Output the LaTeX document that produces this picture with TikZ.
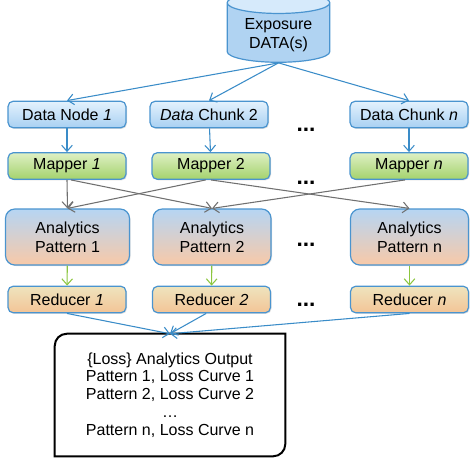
\documentclass[tikz,border=0pt]{standalone}
\usepackage{fontspec}
\setmainfont{Liberation Sans}
\usetikzlibrary{shapes,arrows.meta,shadows}

\definecolor{edgeblue}{RGB}{74,148,207}
\definecolor{linkblue}{RGB}{58,140,200}
\definecolor{chunktop}{RGB}{228,242,253}
\definecolor{chunkbot}{RGB}{168,208,242}
\definecolor{maptop}{RGB}{222,240,196}
\definecolor{mapbot}{RGB}{164,210,108}
\definecolor{anatop}{RGB}{182,213,243}
\definecolor{anabot}{RGB}{248,201,168}
\definecolor{redtop}{RGB}{238,228,190}
\definecolor{redbot}{RGB}{243,196,150}
\definecolor{cylbody}{RGB}{176,211,242}
\definecolor{cyltop}{RGB}{214,234,251}
\definecolor{linkgray}{RGB}{112,112,112}
\definecolor{linkgreen}{RGB}{140,198,63}

\begin{document}
\begin{tikzpicture}[x=0.75pt,y=0.75pt,font=\fontsize{12}{14}\selectfont]
			\tikzstyle{box}=[draw=edgeblue,line width=0.9pt,rounded corners=4pt,text centered,inner sep=2pt,minimum width=88.5pt,minimum height=20pt,drop shadow={opacity=0.25,shadow xshift=0.8pt,shadow yshift=-0.8pt}]
			\tikzstyle{chunk}=[box,top color=chunktop,bottom color=chunkbot]
			\tikzstyle{mapper}=[box,top color=maptop,bottom color=mapbot]
			\tikzstyle{pattern}=[box,rounded corners=7pt,align=center,minimum height=42pt,top color=anatop,bottom color=anabot]
			\tikzstyle{reducer}=[box,top color=redtop,bottom color=redbot]
			\tikzstyle{dots}=[anchor=base,font=\fontsize{17}{17}\selectfont\bfseries]
			\tikzstyle{link}=[-{Straight Barb[length=4.5pt,width=8pt]},line width=0.8pt]

			\useasboundingbox (0,0) rectangle (474,-457);

			\node[cylinder,shape border rotate=90,aspect=0.28,draw=edgeblue,line width=0.9pt,minimum width=77pt,minimum height=48pt,cylinder uses custom fill,cylinder body fill=cylbody,cylinder end fill=cyltop,align=center,font=\fontsize{12}{14}\selectfont] (db) at (278.5,-35) {Exposure\\DATA(s)};

			\node[chunk] (dn1) at (67,-114.5) {Data Node \textit{1}};
			\node[chunk] (dc2) at (209,-114.5) {\textit{Data} Chunk 2};
			\node[chunk] (dcn) at (409,-114.5) {Data Chunk \textit{n}};

			\node[mapper] (m1) at (67,-166) {Mapper \textit{1}};
			\node[mapper] (m2) at (211,-166) {Mapper 2};
			\node[mapper] (mn) at (409,-166) {Mapper \textit{n}};

			\node[pattern,minimum width=93pt] (a1) at (67.5,-237) {Analytics\\Pattern 1};
			\node[pattern] (a2) at (212,-237) {Analytics\\Pattern 2};
			\node[pattern] (an) at (409.5,-237) {Analytics\\Pattern n};

			\node[reducer] (r1) at (67,-299.5) {Reducer \textit{1}};
			\node[reducer] (r2) at (211.5,-299.5) {Reducer \textit{2}};
			\node[reducer] (rn) at (409.5,-299.5) {Reducer \textit{n}};

			\node[dots] (d1) at (306,-131) {...};
			\node[dots] (d2) at (306,-184) {...};
			\node[dots] (d3) at (306,-246) {...};
			\node[dots] (d4) at (306,-306) {...};

			\node[align=center,minimum width=172.5pt,minimum height=91.5pt,font=\fontsize{12}{13.4}\selectfont] (out) at (170,-395) {\{Loss\} Analytics Output\\Pattern 1, Loss Curve 1\\Pattern 2, Loss Curve 2\\\ldots\\Pattern n, Loss Curve n};
			\draw[line width=1.5pt] (out.north east) -- ([yshift=9pt]out.south east) arc[start angle=0,end angle=-90,radius=9pt] -- (out.south west) -- ([yshift=-9pt]out.north west) arc[start angle=180,end angle=90,radius=9pt] -- cycle;

			\draw[link,linkblue] (db.south) -- (dn1.north);
			\draw[link,linkblue] (db.south) -- (dc2.north);
			\draw[link,linkblue] (db.south) -- (dcn.north);

			\draw[link,linkblue] (dn1) -- (m1);
			\draw[link,linkblue] (dc2) -- (m2);
			\draw[link,linkblue] (dcn) -- (mn);

			\draw[link,linkgray] (m1.south) -- (a1.north);
			\draw[link,linkgray] ([xshift=3pt]m1.south) -- (a2.north);
			\draw[link,linkgray] ([xshift=-4pt]m2.south) -- (a1.north);
			\draw[link,linkgray] (m2.south) -- (an.north);
			\draw[link,linkgray] ([xshift=-3pt]mn.south) -- (a2.north);

			\draw[link,linkgreen] (a1) -- (r1);
			\draw[link,linkgreen] (a2) -- (r2);
			\draw[link,linkgreen] (an) -- (rn);

			\draw[link,linkblue] (r1.south) -- (out.north);
			\draw[link,linkblue] ([xshift=-4pt]r2.south) -- (out.north);
			\draw[link,linkblue] (rn.south) -- (out.north);
		\end{tikzpicture}
\end{document}
